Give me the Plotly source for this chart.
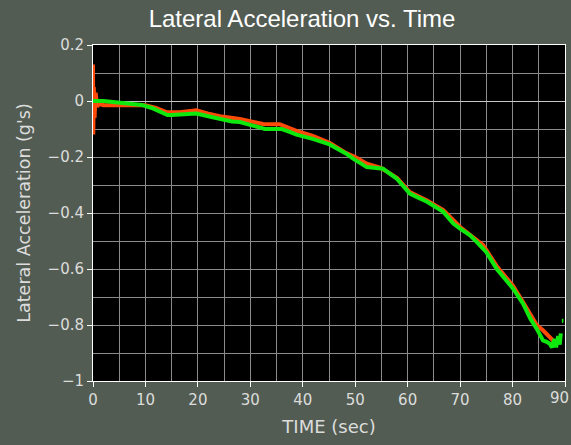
import plotly.graph_objects as go

# Orange series (time in sec, lateral acceleration in g's)
t_orange = [0.0, 0.05, 0.15, 0.3, 0.5, 0.8, 1.2, 2, 5, 8, 10, 12, 14, 16.5, 19.7, 22,
            24.2, 28, 30, 32.4, 35.6, 38.8, 41.9, 45.1, 48.3, 50, 52.2, 55, 58, 60.4,
            63.7, 66.8, 70, 72, 74.4, 77, 80.1, 82, 83.4, 84.6, 85.8, 87.1, 87.7, 88]
a_orange = [0.13, -0.12, 0.05, -0.06, 0.03, -0.02, -0.01, -0.015, -0.015, -0.012, -0.015,
            -0.025, -0.04, -0.04, -0.033, -0.045, -0.054, -0.064, -0.072, -0.082, -0.083,
            -0.107, -0.125, -0.149, -0.186, -0.2, -0.224, -0.24, -0.275, -0.325, -0.355,
            -0.39, -0.45, -0.478, -0.515, -0.59, -0.66, -0.718, -0.76, -0.8, -0.819,
            -0.843, -0.855, -0.87]

# Green series
t_green = [0, 2, 4.7, 7, 9.3, 11.2, 13, 14.2, 15, 18.8, 19.7, 22.6, 24.2, 26.5, 28, 30,
           32.8, 34.5, 36, 37.5, 38.8, 41.9, 43.5, 45.1, 48.3, 49.6, 52.2, 55.3, 57.9,
           60.4, 62, 63.7, 66.8, 68.7, 70, 71.9, 73.2, 75, 77, 78.5, 80.1, 82, 83.4,
           84.6, 85.8, 86.5, 87.1, 87.5, 88, 88.3, 88.7, 89, 89.2, None, 89.4, 89.7]
a_green = [0.0, 0.0, -0.005, -0.01, -0.014, -0.025, -0.04, -0.05, -0.05, -0.045, -0.045,
           -0.057, -0.065, -0.073, -0.075, -0.085, -0.1, -0.1, -0.1, -0.11, -0.12, -0.135,
           -0.145, -0.155, -0.188, -0.206, -0.236, -0.242, -0.277, -0.331, -0.345, -0.36,
           -0.396, -0.438, -0.456, -0.48, -0.504, -0.54, -0.6, -0.635, -0.67, -0.724,
           -0.778, -0.813, -0.855, -0.86, -0.867, -0.88, -0.85, -0.88, -0.84, -0.87,
           -0.83, None, -0.785, -0.785]

x_ticks = [0, 10, 20, 30, 40, 50, 60, 70, 80, 90]
x_tick_text = ["0", "10", "20", "30", "40", "50", "60", "70", "80", "90"]
y_ticks = [0.2, 0, -0.2, -0.4, -0.6, -0.8, -1]
y_tick_text = ["0.2", "0", "\u22120.2", "\u22120.4", "\u22120.6", "\u22120.8", "\u22121"]

fig = go.Figure()
fig.add_trace(go.Scatter(x=t_orange, y=a_orange, mode="lines",
                         line=dict(color="#ff4a0a", width=4), showlegend=False))
fig.add_trace(go.Scatter(x=t_green, y=a_green, mode="lines",
                         line=dict(color="#0ee80e", width=4), showlegend=False,
                         connectgaps=False))

bg = "#535c53"
grid = "#8a8a8a"
axis_font = "DejaVu Sans, Verdana, sans-serif"
# last x tick label is drawn right-aligned at the page edge so it stays fully visible
shown_x_text = x_tick_text[:-1] + [""]
fig.add_annotation(text=x_tick_text[-1], xref="paper", yref="paper", x=1.0131, y=0,
                   xanchor="right", yanchor="top", yshift=-6, showarrow=False,
                   font=dict(family=axis_font, size=15, color="#dcdcdc"))

fig.update_layout(
    width=571, height=445,
    paper_bgcolor=bg, plot_bgcolor="black",
    margin=dict(l=93, r=6, t=45, b=64, autoexpand=False),
    font=dict(family=axis_font, color="#dcdcdc", size=15),
    title=dict(text="Lateral Acceleration vs. Time", x=0.529, xanchor="center",
               y=0.958, yanchor="middle",
               font=dict(size=24, color="white",
                         family="Liberation Sans, Arial, sans-serif")),
    xaxis=dict(range=[0, 90], tickvals=x_ticks, ticktext=shown_x_text,
               ticks="outside", ticklen=5,
               tickcolor="white", showline=True, linecolor="white", linewidth=1,
               mirror=True, showgrid=True, gridcolor=grid, gridwidth=1,
               minor=dict(dtick=5, showgrid=True, gridcolor=grid, ticks=""),
               zeroline=False, automargin=False,
               title=dict(text="TIME (sec)", font=dict(size=18, color="#dcdcdc"),
                          standoff=12)),
    yaxis=dict(range=[-1, 0.2], tickvals=y_ticks, ticktext=y_tick_text,
               ticks="outside", ticklen=5, automargin=False,
               tickcolor="white", showline=True, linecolor="white", linewidth=1,
               mirror=True, showgrid=True, gridcolor=grid, gridwidth=1,
               minor=dict(dtick=0.1, showgrid=True, gridcolor=grid, ticks=""),
               zeroline=True, zerolinecolor="#c8c8c8", zerolinewidth=1,
               title=dict(text="Lateral Acceleration (g's)",
                          font=dict(size=17.5, color="#dcdcdc"), standoff=12)),
)
fig.write_html("out.html")
